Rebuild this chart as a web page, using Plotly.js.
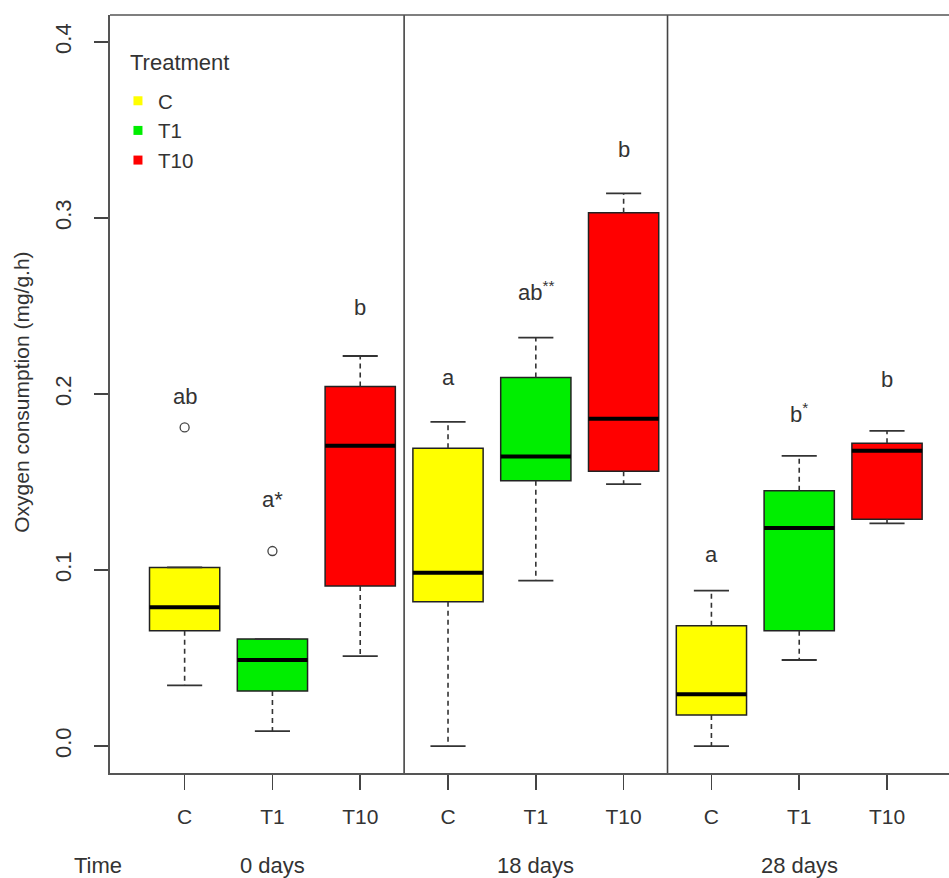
<!DOCTYPE html>
<html>
<head>
<meta charset="utf-8">
<script src="https://cdn.plot.ly/plotly-3.0.1.min.js"></script>
<style>html,body{margin:0;padding:0;background:#fff;}#chart{width:949px;height:878px;}</style>
</head>
<body>
<div id="chart"></div>
<script>
// ---- data ----
const treatments = ['C', 'T1', 'T10'];
const times = ['0 days', '18 days', '28 days'];
const colors = ['#FFFF00', '#00EE00', '#FF0000'];

// per treatment, values for 0 / 18 / 28 days
const q1C  = [0.0655, 0.0820, 0.0176];
const medC = [0.0788, 0.0985, 0.0295];
const q3C  = [0.1015, 0.1692, 0.0684];
const loC  = [0.0345, 0.0000, 0.0000];
const hiC  = [0.1015, 0.1842, 0.0883];
const outC = [0.1810, null, null];

const q1T1  = [0.0313, 0.1507, 0.0655];
const medT1 = [0.0489, 0.1645, 0.1239];
const q3T1  = [0.0608, 0.2094, 0.1450];
const loT1  = [0.0085, 0.0940, 0.0489];
const hiT1  = [0.0608, 0.2320, 0.1648];
const outT1 = [0.1108, null, null];

const q1T10  = [0.0909, 0.1561, 0.1288];
const medT10 = [0.1706, 0.1860, 0.1678];
const q3T10  = [0.2042, 0.3030, 0.1720];
const loT10  = [0.0511, 0.1488, 0.1265];
const hiT10  = [0.2216, 0.3140, 0.1790];
const outT10 = [null, null, null];

// significance letters and the value at which each is written
const lettersC   = ['ab', 'a', 'a'];
const lettersT1  = ['a*', 'ab<sup>**</sup>', 'b<sup>*</sup>'];
const lettersT10 = ['b', 'b', 'b'];
const letterYC   = [0.1985, 0.2094, 0.1090];
const letterYT1  = [0.1398, 0.2586, 0.1890];
const letterYT10 = [0.2490, 0.3387, 0.2083];

const yTicks = [0.0, 0.1, 0.2, 0.3, 0.4];

// ---- build ----
const series = [
  {q1: q1C, med: medC, q3: q3C, lo: loC, hi: hiC, out: outC, lab: lettersC, labY: letterYC},
  {q1: q1T1, med: medT1, q3: q3T1, lo: loT1, hi: hiT1, out: outT1, lab: lettersT1, labY: letterYT1},
  {q1: q1T10, med: medT10, q3: q3T10, lo: loT10, hi: hiT10, out: outT10, lab: lettersT10, labY: letterYT10}
];
const nT = treatments.length;
const BW = 0.8, CAP = 0.2;
const FONT = 'Liberation Sans, Arial, sans-serif';
const TXT = '#333333';

const traces = [];
const annotations = [];
const pos = (t, k) => k * nT + t + 1;

series.forEach((s, t) => {
  const xs = times.map((_, k) => pos(t, k));
  // boxes
  traces.push({
    type: 'box', x: xs, q1: s.q1, median: s.med, q3: s.q3,
    lowerfence: s.q1, upperfence: s.q3,
    width: BW, fillcolor: colors[t],
    line: {color: '#222', width: 1.5}, whiskerwidth: 0,
    showlegend: false, hoverinfo: 'skip'
  });
  // whiskers (dashed), caps and medians
  const wx = [], wy = [], cx = [], cy = [], mx = [], my = [];
  xs.forEach((x, k) => {
    wx.push(x, x, null, x, x, null);
    wy.push(s.q3[k], s.hi[k], null, s.q1[k], s.lo[k], null);
    cx.push(x - CAP, x + CAP, null, x - CAP, x + CAP, null);
    cy.push(s.hi[k], s.hi[k], null, s.lo[k], s.lo[k], null);
    mx.push(x - BW / 2, x + BW / 2, null);
    my.push(s.med[k], s.med[k], null);
  });
  traces.push({type: 'scatter', mode: 'lines', x: wx, y: wy, line: {color: '#333', width: 1.6, dash: '5px,4px'}, showlegend: false, hoverinfo: 'skip'});
  traces.push({type: 'scatter', mode: 'lines', x: cx, y: cy, line: {color: '#333', width: 1.8}, showlegend: false, hoverinfo: 'skip'});
  traces.push({type: 'scatter', mode: 'lines', x: mx, y: my, line: {color: '#000', width: 4}, showlegend: false, hoverinfo: 'skip'});
  // outliers
  traces.push({type: 'scatter', mode: 'markers', x: xs, y: s.out,
    marker: {symbol: 'circle-open', size: 9, color: '#444', line: {width: 1.3, color: '#444'}},
    showlegend: false, hoverinfo: 'skip'});
  // letters
  xs.forEach((x, k) => {
    annotations.push({x: x, y: s.labY[k], xref: 'x', yref: 'y', text: s.lab[k], showarrow: false,
      font: {family: FONT, size: 22, color: TXT}, xanchor: 'center', yanchor: 'middle'});
  });
});

// legend proxies
treatments.forEach((name, t) => {
  traces.push({type: 'scatter', mode: 'markers', x: [null], y: [null], name: name,
    marker: {symbol: 'square', size: 9, color: colors[t]}, showlegend: true, hoverinfo: 'skip'});
});

// group time labels
const xTickVals = [], xTickText = [];
times.forEach((tm, k) => {
  treatments.forEach((tr, t) => { xTickVals.push(pos(t, k)); xTickText.push(tr); });
  annotations.push({x: pos((nT - 1) / 2, k), y: -0.1214, xref: 'x', yref: 'paper', text: tm, showarrow: false,
    font: {family: FONT, size: 22, color: TXT}, xanchor: 'center', yanchor: 'middle'});
});
annotations.push({x: -0.0147, y: -0.1214, xref: 'paper', yref: 'paper', text: 'Time', showarrow: false,
  font: {family: FONT, size: 22, color: TXT}, xanchor: 'center', yanchor: 'middle'});
// y title
annotations.push({x: -0.1049, y: 0.503, xref: 'paper', yref: 'paper', text: 'Oxygen consumption (mg/g.h)', showarrow: false,
  textangle: -90, font: {family: FONT, size: 21, color: TXT}, xanchor: 'center', yanchor: 'middle'});
// legend title
annotations.push({x: 0.022, y: 0.937, xref: 'paper', yref: 'paper', text: 'Treatment', showarrow: false,
  font: {family: FONT, size: 22, color: TXT}, xanchor: 'left', yanchor: 'middle'});

// separators between time groups
const shapes = [];
for (let k = 1; k < times.length; k++) {
  const xsep = k * nT + 0.5;
  shapes.push({type: 'line', xref: 'x', yref: 'paper', x0: xsep, x1: xsep, y0: 0, y1: 1, line: {color: '#444', width: 1.6}});
}
shapes.push({type: 'line', xref: 'paper', yref: 'paper', x0: 0, x1: 1, y0: 1, y1: 1, line: {color: '#555', width: 1.6}});

const layout = {
  width: 949, height: 878,
  margin: {l: 110, r: 0, t: 15, b: 105},
  paper_bgcolor: '#fff', plot_bgcolor: '#fff',
  boxmode: 'overlay',
  showlegend: true,
  legend: {x: 0.0095, y: 0.913, xanchor: 'left', yanchor: 'top', bgcolor: 'rgba(0,0,0,0)',
    font: {family: FONT, size: 20.5, color: TXT}, itemwidth: 30, tracegroupgap: 0},
  xaxis: {range: [0.15, 9.706], tickvals: xTickVals, ticktext: xTickText, showgrid: false, zeroline: false,
    showline: true, linecolor: '#555', linewidth: 1.6, ticks: 'outside', ticklen: 15, tickwidth: 1.6, tickcolor: '#444',
    tickfont: {family: FONT, size: 21, color: TXT}, ticklabelstandoff: 9, fixedrange: true},
  yaxis: {range: [-0.0153, 0.4153], tickvals: yTicks, tickformat: '.1f', tickangle: -90, showgrid: false, zeroline: false,
    showline: true, linecolor: '#555', linewidth: 1.6, ticks: 'outside', ticklen: 14, tickwidth: 1.6, tickcolor: '#444',
    tickfont: {family: FONT, size: 22, color: TXT}, ticklabelstandoff: 15, fixedrange: true},
  shapes: shapes,
  annotations: annotations,
  font: {family: FONT, color: TXT}
};

Plotly.newPlot('chart', traces, layout, {staticPlot: true, displayModeBar: false});
</script>
</body>
</html>
